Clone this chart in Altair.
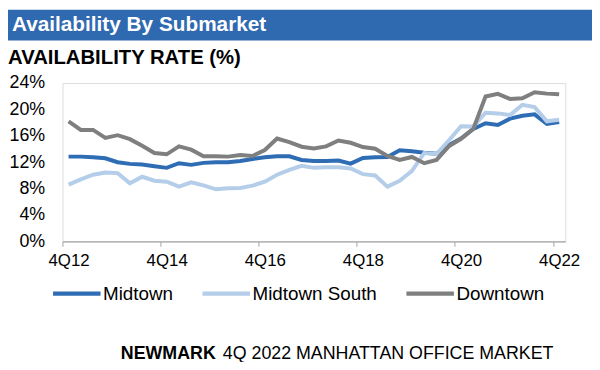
import json
import altair as alt
import pandas as pd

# ---------------- data ----------------
quarters = ["4Q12", "1Q13", "2Q13", "3Q13", "4Q13", "1Q14", "2Q14", "3Q14", "4Q14",
            "1Q15", "2Q15", "3Q15", "4Q15", "1Q16", "2Q16", "3Q16", "4Q16",
            "1Q17", "2Q17", "3Q17", "4Q17", "1Q18", "2Q18", "3Q18", "4Q18",
            "1Q19", "2Q19", "3Q19", "4Q19", "1Q20", "2Q20", "3Q20", "4Q20",
            "1Q21", "2Q21", "3Q21", "4Q21", "1Q22", "2Q22", "3Q22", "4Q22"]

midtown = [12.85, 12.85, 12.75, 12.6, 12.0, 11.75, 11.65, 11.4, 11.15, 11.85,
           11.6, 11.9, 12.0, 12.0, 12.2, 12.5, 12.75, 12.9, 12.9, 12.35,
           12.2, 12.2, 12.25, 11.8, 12.65, 12.75, 12.8, 13.8, 13.65, 13.45,
           13.3, 14.6, 15.6, 17.05, 17.9, 17.65, 18.6, 19.05, 19.25, 17.8, 18.1]

midtown_south = [8.6, 9.4, 10.1, 10.45, 10.35, 8.8, 9.8, 9.2, 9.05, 8.3,
                 8.95, 8.5, 7.9, 8.05, 8.1, 8.45, 9.05, 10.1, 10.85, 11.45,
                 11.15, 11.25, 11.25, 11.05, 10.2, 10.0, 8.3, 9.2, 10.7, 13.4,
                 13.25, 15.3, 17.45, 17.4, 19.5, 19.4, 19.15, 20.7, 20.35, 18.2, 18.45]

downtown = [18.2, 16.9, 16.9, 15.7, 16.1, 15.5, 14.5, 13.4, 13.2, 14.4,
            13.9, 12.9, 12.9, 12.85, 13.1, 12.95, 13.85, 15.6, 15.05, 14.35,
            14.1, 14.4, 15.3, 14.95, 14.3, 14.05, 12.95, 12.35, 12.8, 11.85,
            12.35, 14.4, 15.55, 17.05, 21.95, 22.35, 21.6, 21.7, 22.6, 22.4, 22.3]

series_names = ["Midtown", "Midtown South", "Downtown"]
series_colors = ["#2E6DB4", "#B4CDE9", "#7F7F7F"]
tick_labels = ["4Q12", "4Q14", "4Q16", "4Q18", "4Q20", "4Q22"]
y_ticks = [0, 4, 8, 12, 16, 20, 24]

title_text = "Availability By Submarket"
subtitle_text = "AVAILABILITY RATE (%)"
footer_bold = "NEWMARK"
footer_rest = "4Q 2022 MANHATTAN OFFICE MARKET"

# ---------------- table ----------------
rows = []
for name, vals in zip(series_names, [midtown, midtown_south, downtown]):
    for i, (q, v) in enumerate(zip(quarters, vals)):
        rows.append({"series": name, "idx": i, "quarter": q, "rate": v})
df = pd.DataFrame(rows)

FONT = "Liberation Sans"
W, H = 508, 160
n = len(quarters)
half_band = W / n / 2
tick_vals = [quarters.index(t) - 0.5 for t in tick_labels]
label_expr = f"{json.dumps(quarters)}[round(datum.value + 0.5)]"

lines = alt.Chart(df).mark_line(strokeWidth=4).encode(
    x=alt.X("idx:Q",
            scale=alt.Scale(domain=[-0.5, n - 0.5], nice=False, zero=False),
            axis=alt.Axis(values=tick_vals, labelExpr=label_expr, labelOffset=half_band,
                          title=None, grid=False, tickSize=5, tickColor="#A6A6A6",
                          domainColor="#A6A6A6", domainWidth=1.2, labelFontSize=17,
                          labelFont=FONT, labelColor="#000000", labelPadding=6,
                          labelFlush=False, labelOverlap=False, labelBound=False)),
    y=alt.Y("rate:Q",
            scale=alt.Scale(domain=[0, 24], nice=False),
            axis=alt.Axis(values=y_ticks, labelExpr="datum.value + '%'", title=None,
                          grid=False, domain=False, ticks=False, labelFontSize=18,
                          labelFont=FONT, labelColor="#000000", labelPadding=18)),
    color=alt.Color("series:N",
                    scale=alt.Scale(domain=series_names, range=series_colors),
                    sort=series_names,
                    legend=alt.Legend(title=None, orient="none", legendX=-12, legendY=186,
                                      direction="horizontal", symbolType="stroke",
                                      symbolSize=2304, symbolStrokeWidth=4.5,
                                      labelFontSize=19, labelFont=FONT, labelColor="#000000",
                                      labelOffset=0, columnPadding=20, padding=0)),
)

one = alt.Data(values=[{}])

banner = alt.Chart(one).mark_rect(color="#2F69B0").encode(
    x=alt.value(-55), x2=alt.value(535), y=alt.value(-74), y2=alt.value(-43))

title = alt.Chart(one).mark_text(text=title_text, font=FONT, fontSize=21, fontWeight="bold",
                                 color="white", align="left", baseline="alphabetic").encode(
    x=alt.value(-51), y=alt.value(-53))

subtitle = alt.Chart(one).mark_text(text=subtitle_text, font=FONT, fontSize=20.5, fontWeight="bold",
                                    color="black", align="left", baseline="alphabetic").encode(
    x=alt.value(-55), y=alt.value(-19))

foot1 = alt.Chart(one).mark_text(text=footer_bold, font=FONT, fontSize=18, fontWeight="bold",
                                 color="black", align="left", baseline="alphabetic").encode(
    x=alt.value(59), y=alt.value(279))

foot2 = alt.Chart(one).mark_text(text=footer_rest, font=FONT, fontSize=18,
                                 color="black", align="left", baseline="alphabetic").encode(
    x=alt.value(162), y=alt.value(279))

chart = alt.layer(banner, title, subtitle, lines, foot1, foot2).properties(
    width=W, height=H,
    padding={"left": 55, "top": 74, "right": 27, "bottom": 120},
    autosize=alt.AutoSizeParams(type="none"),
).configure_view(stroke=None).configure(font=FONT, background="white")

chart.save("out.html", embed_options={"renderer": "svg", "actions": False})
